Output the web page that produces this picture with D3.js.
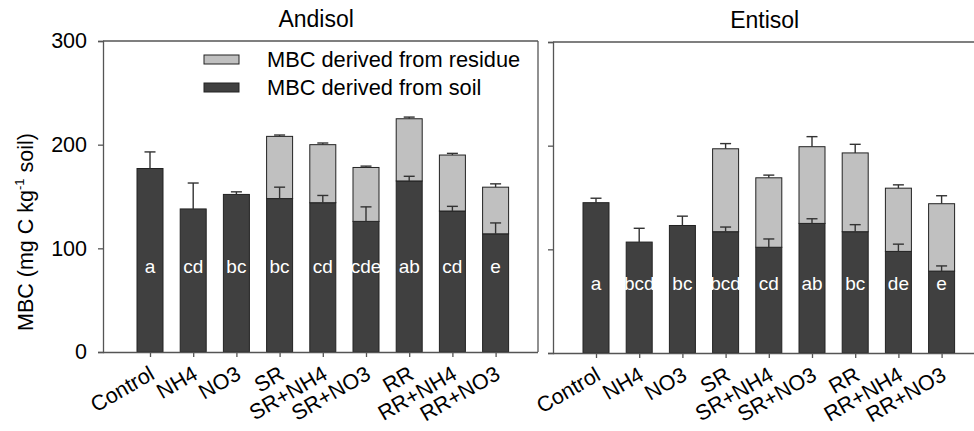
<!DOCTYPE html>
<html>
<head>
<meta charset="utf-8">
<script src="https://cdn.jsdelivr.net/npm/d3@7"></script>
<style>
  body { margin: 0; background: #fff; }
  text { font-family: "Liberation Sans", Arial, sans-serif; fill: #000; }
</style>
</head>
<body>
<div id="chart"></div>
<script>
const categories = ["Control", "NH4", "NO3", "SR", "SR+NH4", "SR+NO3", "RR", "RR+NH4", "RR+NO3"];
const yTicks = [0, 100, 200, 300];

const andisolSoil = [177, 138, 152, 148, 144, 126, 165, 136, 114];
const andisolSoilErr = [16, 25, 2.5, 11, 7, 14, 4.5, 4.5, 10.5];
const andisolResidue = [0, 0, 0, 60, 56, 52, 60, 54, 45];
const andisolTotalErr = [0, 0, 0, 1.3, 1.6, 1.3, 1.6, 1.6, 3.2];
const andisolLetters = ["a", "cd", "bc", "bc", "cd", "cde", "ab", "cd", "e"];

const entisolSoil = [145, 107, 123, 117, 102, 125, 117, 98, 79];
const entisolSoilErr = [4.3, 13.3, 9, 4.5, 8, 4.5, 6.8, 7, 5];
const entisolResidue = [0, 0, 0, 80, 67, 74, 76, 61, 65];
const entisolTotalErr = [0, 0, 0, 5, 2.6, 9.7, 8.3, 3.2, 7.7];
const entisolLetters = ["a", "bcd", "bc", "bcd", "cd", "ab", "bc", "de", "e"];

const legendLabels = ["MBC derived from residue", "MBC derived from soil"];

const width = 974;
const height = 431;
const DARK = "#404040";
const LIGHT = "#c0c0c0";
const AXIS = "#555";
const FONT = "21.5px";

const svg = d3.select("#chart")
  .append("svg")
  .attr("width", width)
  .attr("height", height);

function drawPanel(opts) {
  const { x0, w, pad, top, bottom, title, soil, soilErr, residue, totalErr, letters, letterAt, showLabels } = opts;

  const rows = categories.map((c, i) => ({
    cat: c, soil: soil[i], residue: residue[i], soilErr: soilErr[i], totalErr: totalErr[i], letter: letters[i]
  }));

  const x = d3.scalePoint()
    .domain(categories)
    .range([x0 + pad, x0 + pad + 8 * 43.2]);
  const barW = 26;

  const y = d3.scaleLinear().domain([0, 300]).range([bottom, top]);

  const g = svg.append("g");

  // frame (top + right)
  g.append("line").attr("x1", x0).attr("x2", x0 + w).attr("y1", top).attr("y2", top)
    .attr("stroke", AXIS).attr("stroke-width", 1.3);
  g.append("line").attr("x1", x0 + w).attr("x2", x0 + w).attr("y1", top).attr("y2", bottom)
    .attr("stroke", AXIS).attr("stroke-width", 1.3);

  const yAxis = g.append("g")
    .attr("transform", `translate(${x0},0)`)
    .call(d3.axisLeft(y).tickValues(yTicks).tickSize(5).tickFormat(showLabels ? d3.format("d") : ""));
  yAxis.select(".domain").attr("stroke", AXIS).attr("stroke-width", 1.3);
  yAxis.selectAll(".tick line").attr("stroke", AXIS).attr("stroke-width", 1.3);
  yAxis.selectAll(".tick text")
    .attr("x", -16)
    .style("font-size", FONT)
    .style("font-family", "'Liberation Sans', Arial, sans-serif")
    .attr("fill", "#000");

  const stack = d3.stack().keys(["soil", "residue"]);
  const series = stack(rows);

  g.selectAll("g.layer")
    .data(series)
    .enter()
    .append("g")
    .attr("class", "layer")
    .attr("fill", (d) => d.key === "soil" ? DARK : LIGHT)
    .selectAll("rect")
    .data((d) => d.filter((p) => p[1] > p[0]))
    .enter()
    .append("rect")
    .attr("x", (d) => x(d.data.cat) - barW / 2)
    .attr("width", barW)
    .attr("y", (d) => y(d[1]))
    .attr("height", (d) => y(d[0]) - y(d[1]))
    .attr("stroke", "#222")
    .attr("stroke-width", 1);

  // error bars (upper only)
  const errs = [];
  rows.forEach((r) => {
    errs.push({ cat: r.cat, v: r.soil, e: r.soilErr });
    if (r.residue > 0) errs.push({ cat: r.cat, v: r.soil + r.residue, e: r.totalErr });
  });
  const eb = g.selectAll("g.err").data(errs).enter().append("g").attr("class", "err")
    .attr("stroke", "#333").attr("stroke-width", 1.4);
  eb.append("line")
    .attr("x1", (d) => x(d.cat)).attr("x2", (d) => x(d.cat))
    .attr("y1", (d) => y(d.v)).attr("y2", (d) => y(d.v + d.e));
  eb.append("line")
    .attr("x1", (d) => x(d.cat) - 5.5).attr("x2", (d) => x(d.cat) + 5.5)
    .attr("y1", (d) => y(d.v + d.e)).attr("y2", (d) => y(d.v + d.e));

  // significance letters
  g.selectAll("text.letter").data(rows).enter().append("text")
    .attr("class", "letter")
    .attr("x", (d) => x(d.cat))
    .attr("y", y(letterAt))
    .attr("text-anchor", "middle")
    .attr("dominant-baseline", "middle")
    .style("font-size", "19px")
    .style("fill", "#fff")
    .text((d) => d.letter);

  // x axis
  const xAxis = g.append("g")
    .attr("transform", `translate(0,${bottom})`)
    .call(d3.axisBottom(x).tickSize(5).tickSizeOuter(0).tickFormat(""));
  xAxis.select(".domain").attr("d", `M${x0},0.5H${x0 + w}`).attr("stroke", AXIS).attr("stroke-width", 1.3);
  xAxis.selectAll(".tick line").attr("stroke", AXIS).attr("stroke-width", 1.3);

  g.selectAll("text.xlab").data(categories).enter().append("text")
    .attr("class", "xlab")
    .attr("text-anchor", "end")
    .attr("transform", (d) => `translate(${x(d) + 6},${bottom + 26}) rotate(-30)`)
    .style("font-size", FONT)
    .text((d) => d);

  g.append("text")
    .attr("x", x0 + 0.49 * w)
    .attr("y", top - 14)
    .attr("text-anchor", "middle")
    .style("font-size", "23px")
    .text(title);

  return { x, y };
}

drawPanel({
  x0: 103, w: 435, pad: 47, top: 41, bottom: 352, title: "Andisol",
  soil: andisolSoil, soilErr: andisolSoilErr, residue: andisolResidue, totalErr: andisolTotalErr,
  letters: andisolLetters, letterAt: 81, showLabels: true
});

drawPanel({
  x0: 553, w: 432, pad: 43, top: 42, bottom: 353, title: "Entisol",
  soil: entisolSoil, soilErr: entisolSoilErr, residue: entisolResidue, totalErr: entisolTotalErr,
  letters: entisolLetters, letterAt: 66, showLabels: false
});

// legend
const legend = svg.append("g").attr("transform", "translate(204,55)");
legend.selectAll("rect").data(legendLabels).enter().append("rect")
  .attr("x", 0).attr("y", (d, i) => i * 28)
  .attr("width", 35).attr("height", 9)
  .attr("fill", (d, i) => i === 0 ? LIGHT : DARK)
  .attr("stroke", "#222").attr("stroke-width", 1);
legend.selectAll("text").data(legendLabels).enter().append("text")
  .attr("x", 63).attr("y", (d, i) => i * 28 + 12)
  .style("font-size", "21.8px")
  .text((d) => d);

// y label
const ylab = svg.append("text")
  .attr("transform", "translate(33,232) rotate(-90)")
  .attr("text-anchor", "middle")
  .style("font-size", FONT);
ylab.append("tspan").text("MBC (mg C kg");
ylab.append("tspan").attr("dy", -9).style("font-size", "13px").text("-1");
ylab.append("tspan").attr("dy", 9).text(" soil)");
</script>
</body>
</html>
